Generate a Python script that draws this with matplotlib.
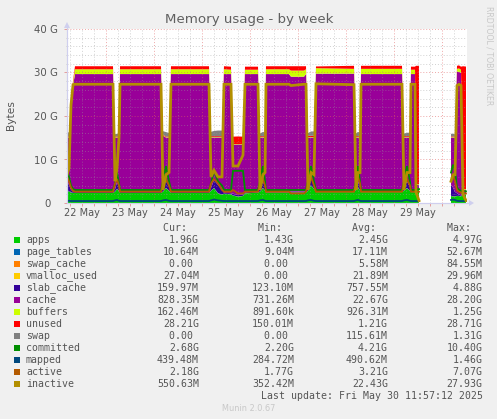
import numpy as np
import matplotlib
matplotlib.use("Agg")
import matplotlib.pyplot as plt
from matplotlib.patches import Rectangle, Polygon

nan = float("nan")
W, H = 497, 419

# Time in days since 22 May 00:00
T = [.188,.229,.271,.313,.354,
     1.146,1.188,1.229,1.271,1.292,
     2.146,2.188,2.25,2.313,2.354,
     3.146,3.188,3.25,3.333,3.417,3.458,
     3.604,3.646,3.75,3.854,3.896,
     4.167,4.208,4.271,4.313,4.333,
     4.813,4.854,5.125,5.167,5.208,5.271,5.333,5.375,
     6.167,6.208,6.25,6.292,6.313,
     7.167,7.208,7.271,7.333,7.354,
     7.438,7.458,7.521,8.0,
     8.188,8.229,8.271,8.313,8.354,8.396,8.438,8.5]

apps = [3.0,2.6,2.4,2.3,2.3,
        2.3,2.6,3.2,2.8,2.3,
        2.3,2.6,3.4,2.8,2.3,
        2.3,2.8,3.4,2.2,1.9,2.1,
        2.0,1.7,1.45,1.6,2.2,
        2.4,2.6,3.4,2.8,2.4,
        2.4,2.4,2.4,2.4,2.8,4.0,3.2,2.5,
        2.5,3.0,3.6,2.9,2.5,
        2.5,2.8,3.4,2.8,2.5,
        2.5,3.0,3.0,nan,
        1.6,1.5,1.5,1.6,1.6,1.5,2.0,1.96]
page_tables = [.03,.03,.02,.02,.02,
               .02,.03,.03,.02,.02,
               .02,.03,.03,.02,.02,
               .02,.03,.03,.03,.02,.02,
               .02,.02,.02,.02,.02,
               .02,.03,.03,.02,.02,
               .02,.02,.02,.02,.03,.03,.02,.02,
               .02,.03,.03,.02,.02,
               .02,.03,.03,.02,.02,
               .02,.01,.01,nan,
               .03,.03,.02,.02,.02,.01,.01,.01]
swap_cache = [.01,.01,.01,0,0,
              0,.01,.01,.01,0,
              0,.01,.01,.01,0,
              0,.01,.01,.01,.01,0,
              0,.01,.01,.01,0,
              0,.01,.01,.01,0,
              0,0,0,0,.01,.01,.01,0,
              0,.01,.01,.01,0,
              0,.01,.01,.01,0,
              0,0,0,nan,
              .01,.01,.01,0,0,0,0,0]
vmalloc_used = [.02,.02,.02,.02,.02,
                .02,.02,.02,.02,.02,
                .02,.02,.02,.02,.02,
                .02,.02,.02,.02,.02,.02,
                .02,.02,.02,.02,.02,
                .02,.02,.02,.02,.02,
                .02,.02,.02,.02,.02,.02,.02,.02,
                .02,.02,.02,.02,.02,
                .02,.02,.02,.02,.02,
                .02,.03,.03,nan,
                .02,.02,.02,.02,.02,.03,.03,.03]
slab_cache = [2.0,1.5,.6,.3,.2,
              .2,.5,1.5,.8,.2,
              .2,.6,1.8,.9,.2,
              .2,.6,1.8,1.9,1.4,.2,
              .2,.4,.3,.3,.2,
              .2,.6,1.5,.8,.2,
              .2,.2,.2,.2,.5,1.6,.8,.2,
              .2,.5,1.2,.6,.2,
              .2,.6,1.5,.8,.2,
              .2,.3,.3,nan,
              2.5,2.0,1.0,.6,.3,.2,.2,.16]
cache = [10.0,10.9,19.5,24.4,27.1,
         27.1,11.9,10.3,11.4,27.1,
         27.1,12.2,9.8,11.3,27.1,
         27.1,11.6,9.8,10.9,11.7,27.3,
         27.4,11.3,11.6,11.5,27.2,
         27.0,11.8,10.1,11.4,27.0,
         27.0,26.4,26.4,27.0,11.7,9.4,11.0,27.0,
         27.0,11.5,10.2,11.5,26.9,
         26.9,11.6,10.1,11.4,26.9,
         26.9,.9,.83,nan,
         10.9,11.5,12.5,28.0,28.2,28.2,.83,.83]
buffers = [.1,.1,.2,.6,1.1,
           1.1,.1,.1,.1,1.1,
           1.1,.1,.1,.1,1.1,
           1.1,.1,.1,.1,.1,1.1,
           1.0,.1,.1,.1,1.0,
           1.0,.1,.1,.1,1.1,
           1.1,1.4,1.4,1.1,.1,.1,.1,1.25,
           1.1,.1,.1,.1,1.2,
           1.2,.1,.1,.1,1.0,
           1.0,.1,.16,nan,
           .1,.1,.1,.6,.8,.7,.16,.16]
unused = [.15,.15,.15,.5,.7,
          .7,.15,.15,.15,.7,
          .7,.15,.15,.15,.7,
          .7,.2,.2,.2,.2,.7,
          .7,1.7,1.8,1.7,.7,
          .7,.2,.2,.2,.7,
          .7,1.0,1.0,.7,.3,.3,.3,.4,
          .7,.2,.2,.2,.7,
          .7,.2,.2,.2,.7,
          .7,27.2,27.2,nan,
          .15,.15,.15,.7,.7,.7,28.21,28.21]
swap = [1.0,.9,.2,0,0,
        0,.5,.6,.5,0,
        0,.8,1.0,.8,0,
        0,1.0,1.2,1.3,1.3,0,
        0,0,0,0,0,
        0,.6,1.0,.8,0,
        0,0,0,0,.6,1.0,1.0,0,
        0,.6,1.0,.8,0,
        0,.6,.8,.8,0,
        0,0,0,nan,
        .6,.6,.5,0,0,0,0,0]
committed = [7.5,6.0,4.0,3.2,3.0,
             3.0,4.5,7.0,4.5,3.0,
             3.0,5.0,8.5,5.0,3.0,
             3.0,4.5,7.5,5.0,4.0,3.0,
             3.0,7.4,7.4,7.4,3.0,
             3.0,5.0,8.5,5.0,3.0,
             3.0,3.0,3.0,3.0,5.0,8.5,5.0,3.0,
             3.0,5.0,8.5,5.0,3.0,
             3.0,5.0,8.5,5.0,3.0,
             3.0,3.2,3.2,nan,
             7.0,8.8,7.5,3.5,3.0,2.8,2.7,2.68]
mapped = [.5,.5,.45,.45,.45,
          .45,.6,.7,.5,.45,
          .45,.6,.7,.5,.45,
          .45,.6,.8,.6,.5,.45,
          .45,.45,.45,.45,.45,
          .45,.6,.7,.5,.45,
          .45,.45,.45,.45,.6,.7,.5,.45,
          .45,.6,.7,.5,.45,
          .45,.6,.7,.5,.45,
          .45,.45,.45,nan,
          .7,.8,.7,.5,.45,.45,.45,.44]
active = [6.0,5.0,3.5,2.8,2.6,
          2.6,4.5,5.5,4.0,2.6,
          2.6,4.5,5.5,4.0,2.6,
          2.6,4.5,5.5,4.5,3.0,2.6,
          2.6,3.0,2.2,2.2,2.6,
          2.6,4.5,5.5,4.0,2.6,
          2.6,2.2,2.2,2.6,4.5,6.0,4.0,2.6,
          2.6,4.5,6.0,4.5,2.6,
          2.6,4.5,5.5,4.0,2.6,
          2.6,2.6,2.6,nan,
          5.0,6.5,5.0,2.9,2.6,2.4,2.2,2.18]
inactive = [6.5,8.0,22.5,27.2,27.3,
            27.3,5.0,8.0,15.0,27.3,
            27.3,3.0,6.5,7.0,27.3,
            27.3,6.0,7.5,6.0,6.0,27.3,
            27.3,8.5,8.5,11.0,27.3,
            27.3,3.0,6.5,7.0,27.3,
            27.3,27.0,27.3,27.3,3.0,7.0,6.5,27.4,
            27.2,3.0,7.0,7.0,27.3,
            27.3,3.0,7.0,7.0,27.3,
            27.3,2.5,.55,nan,
            5.0,6.5,6.5,27.0,27.3,27.0,2.0,.55]

area_names = ["apps","page_tables","swap_cache","vmalloc_used","slab_cache","cache","buffers","unused","swap"]
area_values = [apps,page_tables,swap_cache,vmalloc_used,slab_cache,cache,buffers,unused,swap]
area_colors = ["#00CC00","#0066B3","#FF8000","#FFCC00","#330099","#990099","#CCFF00","#FF0000","#808080"]
line_names = ["committed","mapped","active","inactive"]
line_values = [committed,mapped,active,inactive]
line_colors = ["#008F00","#00487D","#B35A00","#B38F00"]

cur = ["1.96G","10.64M","0.00 ","27.04M","159.97M","828.35M","162.46M","28.21G","0.00 ","2.68G","439.48M","2.18G","550.63M"]
mins = ["1.43G","9.04M","0.00 ","0.00 ","123.10M","731.26M","891.60k","150.01M","0.00 ","2.20G","284.72M","1.77G","352.42M"]
avgs = ["2.45G","17.11M","5.58M","21.89M","757.55M","22.67G","926.31M","1.21G","115.61M","4.21G","490.62M","3.21G","22.43G"]
maxs = ["4.97G","52.67M","84.55M","29.96M","4.88G","28.20G","1.25G","28.71G","1.31G","10.40G","1.46G","7.07G","27.93G"]

day_labels = ["22 May","23 May","24 May","25 May","26 May","27 May","28 May","29 May"]
y_major = [0,10,20,30,40]
y_labels = ["0  ","10 G","20 G","30 G","40 G"]

BG = "#f0f0f0"
TXT = "#555555"
AXC = "#cfcfee"
fig = plt.figure(figsize=(W/100, H/100), dpi=100, facecolor=BG)
L, R, TOP, BOT = 67, 467, 29, 203
ax = fig.add_axes([L/W, 1-BOT/H, (R-L)/W, (BOT-TOP)/H], facecolor="white")

t = np.array(T)
base = np.zeros(len(t))
for vals, c in zip(area_values, area_colors):
    v = np.array(vals)
    ax.fill_between(t, base, base+v, color=c, lw=0, zorder=2)
    base = base+v
for vals, c, lw in zip(line_values, line_colors, [1.3,1.3,1.3,2.0]):
    ax.plot(t, vals, color=c, lw=lw, zorder=3, solid_joinstyle="miter")

ax.set_xlim(.1875, 8.521)
ax.set_ylim(0, 40)
days = np.arange(1, 9)
quarters = [q/4 for q in range(1, 34) if q % 4 != 0]
q_labels = [day_labels[int(q)] if (q % 1 == .5 and int(q) < len(day_labels)) else "" for q in quarters]
ax.set_xticks(days, [""]*len(days))
ax.set_xticks(quarters, q_labels, minor=True)
ax.set_yticks(y_major, y_labels)
ax.set_yticks([y for y in range(2, 40, 2) if y % 10], minor=True)
ax.tick_params(axis="x", which="both", length=2, width=.6, color="#e09090", labelsize=7, labelcolor=TXT, pad=1.5)
ax.tick_params(axis="y", which="major", length=2, width=.6, color="#e09090", labelsize=7.3, labelcolor=TXT, pad=4.5)
ax.tick_params(axis="y", which="minor", length=1, width=.5, color="#bbbbbb")
ax.grid(True, which="major", color="#e06060", alpha=.55, lw=.7, ls=(0,(1,2)), zorder=5)
ax.grid(True, which="minor", color="#999999", alpha=.45, lw=.7, ls=(0,(1,2)), zorder=5)
ax.set_axisbelow(False)
for s in ["top","right"]:
    ax.spines[s].set_visible(False)
for s in ["left","bottom"]:
    ax.spines[s].set_color(AXC)
    ax.spines[s].set_linewidth(.8)

def px(x, y):
    return x/W, 1-y/H
def txt(x, y, s, **k):
    k.setdefault("color", TXT)
    k.setdefault("va", "center")
    fig.text(*px(x, y), s, **k)

# axis extensions and arrows
for a, b in [((67,203),(67,26)), ((67,203),(470,203))]:
    fig.add_artist(plt.Line2D(*zip(px(*a), px(*b)), color=AXC, lw=.8))
fig.add_artist(Polygon([px(64,28),px(70,28),px(67,22)], closed=True, fc=AXC, ec="none", transform=fig.transFigure))
fig.add_artist(Polygon([px(469,200),px(469,206),px(474,203)], closed=True, fc=AXC, ec="none", transform=fig.transFigure))

txt(249, 19.5, "Memory usage - by week", ha="center", fontsize=9.6, color="#606060")
txt(11, 115, "Bytes", ha="center", rotation=90, fontsize=7.7, color=TXT)
txt(488.5, 56, "RRDTOOL / TOBI OETIKER", ha="center", rotation=270, fontsize=5.6, color="#c8c8c8")

MONO = dict(family="DejaVu Sans Mono", fontsize=7.1)
cols = [199, 294, 388, 482.7]
for xr, h in zip(cols, ["Cur:  ","Min:  ","Avg:  ","Max:  "]):
    txt(xr, 228, h, ha="right", **MONO)
names = area_names + line_names
colors = area_colors + line_colors
for i, (n, c) in enumerate(zip(names, colors)):
    y = 240 + i*12
    fig.add_artist(Rectangle(px(14, y+3), 6/W, 6/H, fc=c, ec="none", transform=fig.transFigure))
    txt(26, y, n, ha="left", **MONO)
    for xr, col in zip(cols, [cur, mins, avgs, maxs]):
        txt(xr, y, col[i], ha="right", **MONO)
txt(482.7, 395.7, "Last update: Fri May 30 11:57:12 2025", ha="right", **MONO)
txt(248.5, 408, "Munin 2.0.67", ha="center", fontsize=5.9, color="#c8c8c8")

fig.savefig("out.png", dpi=100, facecolor=BG)
